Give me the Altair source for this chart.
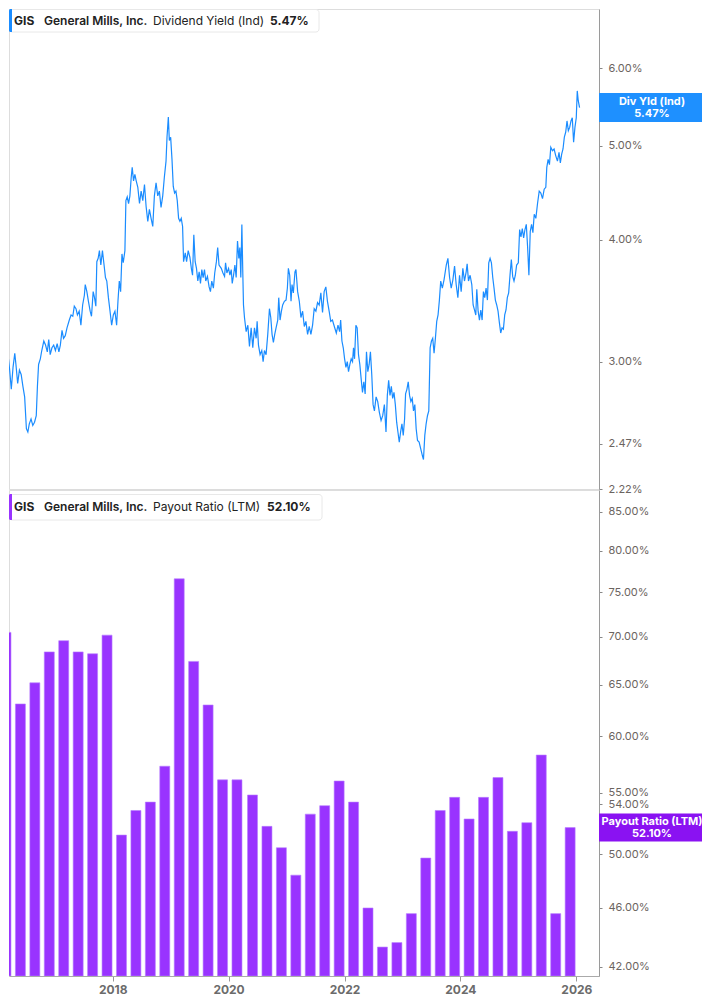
import datetime as dt
import altair as alt
import pandas as pd

# ---------------- data ----------------
# Dividend yield (Ind), % — dates as decimal years
yield_years = [
    2016.080, 2016.110, 2016.130, 2016.160, 2016.190, 2016.220, 2016.250, 2016.280, 2016.310, 2016.330,
    2016.360, 2016.390, 2016.420, 2016.450, 2016.480, 2016.510, 2016.535, 2016.560, 2016.590, 2016.620,
    2016.650, 2016.680, 2016.700, 2016.720, 2016.750, 2016.775, 2016.810, 2016.840, 2016.870, 2016.895,
    2016.920, 2016.950, 2016.980, 2017.010, 2017.040, 2017.070, 2017.095, 2017.124, 2017.150, 2017.180,
    2017.210, 2017.250, 2017.280, 2017.310, 2017.336, 2017.365, 2017.390, 2017.420, 2017.450, 2017.480,
    2017.510, 2017.525, 2017.553, 2017.580, 2017.610, 2017.633, 2017.662, 2017.685, 2017.708, 2017.725,
    2017.748, 2017.770, 2017.794, 2017.822, 2017.850, 2017.874, 2017.897, 2017.925, 2017.948, 2017.981,
    2018.010, 2018.038, 2018.067, 2018.090, 2018.113, 2018.136, 2018.159, 2018.181, 2018.210, 2018.227,
    2018.250, 2018.273, 2018.296, 2018.319, 2018.336, 2018.359, 2018.382, 2018.405, 2018.433, 2018.462,
    2018.490, 2018.519, 2018.548, 2018.576, 2018.605, 2018.633, 2018.662, 2018.691, 2018.719, 2018.748,
    2018.777, 2018.805, 2018.834, 2018.863, 2018.891, 2018.920, 2018.937, 2018.960, 2018.977, 2019.000,
    2019.023, 2019.045, 2019.068, 2019.091, 2019.114, 2019.137, 2019.160, 2019.183, 2019.206, 2019.223,
    2019.252, 2019.275, 2019.303, 2019.332, 2019.360, 2019.378, 2019.400, 2019.423, 2019.446, 2019.469,
    2019.492, 2019.515, 2019.538, 2019.561, 2019.584, 2019.606, 2019.635, 2019.664, 2019.687, 2019.710,
    2019.738, 2019.761, 2019.790, 2019.812, 2019.835, 2019.874, 2019.903, 2019.931, 2019.948, 2019.971,
    2020.000, 2020.023, 2020.046, 2020.063, 2020.086, 2020.109, 2020.131, 2020.154, 2020.177, 2020.194,
    2020.211, 2020.229, 2020.246, 2020.257, 2020.274, 2020.303, 2020.332, 2020.360, 2020.389, 2020.417,
    2020.446, 2020.475, 2020.492, 2020.515, 2020.543, 2020.572, 2020.595, 2020.618, 2020.646, 2020.675,
    2020.704, 2020.727, 2020.749, 2020.772, 2020.795, 2020.818, 2020.847, 2020.864, 2020.887, 2020.910,
    2020.932, 2020.961, 2020.990, 2021.013, 2021.030, 2021.053, 2021.076, 2021.093, 2021.116, 2021.144,
    2021.161, 2021.190, 2021.219, 2021.247, 2021.276, 2021.305, 2021.333, 2021.362, 2021.390, 2021.419,
    2021.448, 2021.476, 2021.505, 2021.534, 2021.562, 2021.591, 2021.620, 2021.648, 2021.677, 2021.705,
    2021.734, 2021.762, 2021.791, 2021.830, 2021.858, 2021.887, 2021.915, 2021.933, 2021.955, 2021.978,
    2022.001, 2022.024, 2022.047, 2022.069, 2022.092, 2022.115, 2022.138, 2022.155, 2022.173, 2022.196,
    2022.218, 2022.241, 2022.264, 2022.287, 2022.310, 2022.333, 2022.356, 2022.379, 2022.402, 2022.425,
    2022.447, 2022.470, 2022.493, 2022.516, 2022.545, 2022.573, 2022.602, 2022.631, 2022.659, 2022.688,
    2022.716, 2022.739, 2022.762, 2022.785, 2022.808, 2022.831, 2022.854, 2022.877, 2022.900, 2022.922,
    2022.945, 2022.968, 2022.991, 2023.014, 2023.037, 2023.054, 2023.077, 2023.100, 2023.123, 2023.146,
    2023.169, 2023.191, 2023.214, 2023.237, 2023.260, 2023.288, 2023.317, 2023.346, 2023.363, 2023.386,
    2023.409, 2023.432, 2023.455, 2023.478, 2023.501, 2023.523, 2023.546, 2023.569, 2023.592, 2023.615,
    2023.638, 2023.661, 2023.689, 2023.718, 2023.757, 2023.785, 2023.814, 2023.842, 2023.871, 2023.900,
    2023.928, 2023.957, 2023.986, 2024.014, 2024.043, 2024.071, 2024.100, 2024.117, 2024.140, 2024.168,
    2024.197, 2024.220, 2024.243, 2024.266, 2024.283, 2024.306, 2024.329, 2024.352, 2024.375, 2024.397,
    2024.420, 2024.443, 2024.466, 2024.489, 2024.512, 2024.535, 2024.558, 2024.580, 2024.603, 2024.626,
    2024.649, 2024.672, 2024.695, 2024.718, 2024.741, 2024.764, 2024.786, 2024.809, 2024.832, 2024.855,
    2024.878, 2024.901, 2024.924, 2024.947, 2024.969, 2024.998, 2025.021, 2025.044, 2025.067, 2025.090,
    2025.113, 2025.136, 2025.159, 2025.181, 2025.204, 2025.227, 2025.250, 2025.273, 2025.301, 2025.330,
    2025.359, 2025.387, 2025.416, 2025.445, 2025.473, 2025.490, 2025.513, 2025.536, 2025.559, 2025.588,
    2025.616, 2025.645, 2025.674, 2025.701, 2025.724, 2025.747, 2025.770, 2025.793, 2025.816, 2025.839,
    2025.862, 2025.885, 2025.908, 2025.930, 2025.953, 2025.976, 2025.999, 2026.016, 2026.033, 2026.056,
]
yield_values = [
    3.20, 3.16, 3.00, 2.93, 3.06, 2.95, 2.81, 2.96, 3.06, 2.98,
    2.85, 2.94, 2.91, 2.83, 2.76, 2.56, 2.54, 2.59, 2.62, 2.58,
    2.60, 2.64, 2.83, 2.98, 3.02, 3.08, 3.15, 3.12, 3.07, 3.16,
    3.05, 3.10, 3.12, 3.08, 3.13, 3.07, 3.12, 3.23, 3.17, 3.19,
    3.25, 3.31, 3.35, 3.34, 3.42, 3.40, 3.35, 3.38, 3.27, 3.43,
    3.51, 3.60, 3.54, 3.46, 3.38, 3.34, 3.54, 3.49, 3.42, 3.80,
    3.83, 3.90, 3.77, 3.90, 3.77, 3.66, 3.63, 3.49, 3.40, 3.27,
    3.35, 3.38, 3.27, 3.46, 3.63, 3.54, 3.87, 3.79, 3.90, 4.39,
    4.43, 4.36, 4.44, 4.64, 4.75, 4.60, 4.67, 4.60, 4.53, 4.36,
    4.49, 4.39, 4.56, 4.33, 4.18, 4.30, 4.21, 4.13, 4.44, 4.58,
    4.44, 4.49, 4.32, 4.44, 4.64, 4.82, 5.10, 5.35, 5.06, 5.10,
    4.84, 4.54, 4.47, 4.49, 4.39, 4.21, 4.18, 4.21, 4.13, 3.80,
    3.88, 3.80, 3.90, 3.84, 3.73, 3.68, 4.05, 3.80, 3.74, 3.63,
    3.71, 3.61, 3.73, 3.66, 3.73, 3.63, 3.67, 3.58, 3.54, 3.63,
    3.57, 3.70, 3.80, 3.93, 3.77, 3.74, 3.70, 3.67, 3.79, 3.70,
    3.74, 3.68, 3.73, 3.61, 3.68, 3.77, 3.66, 3.99, 3.83, 3.93,
    3.66, 4.15, 3.68, 3.43, 3.33, 3.22, 3.27, 3.11, 3.25, 3.10,
    3.25, 3.17, 3.30, 3.12, 3.05, 3.08, 3.00, 3.08, 3.05, 3.20,
    3.40, 3.33, 3.20, 3.14, 3.20, 3.25, 3.31, 3.49, 3.31, 3.38,
    3.43, 3.46, 3.47, 3.57, 3.74, 3.68, 3.46, 3.60, 3.53, 3.71,
    3.73, 3.54, 3.46, 3.33, 3.38, 3.26, 3.30, 3.20, 3.26, 3.20,
    3.27, 3.40, 3.38, 3.45, 3.43, 3.53, 3.37, 3.54, 3.58, 3.46,
    3.38, 3.30, 3.31, 3.25, 3.21, 3.27, 3.22, 3.31, 3.15, 3.10,
    3.02, 2.96, 3.00, 2.93, 2.98, 3.02, 3.00, 3.10, 3.02, 3.27,
    3.25, 3.05, 2.98, 2.88, 2.79, 2.86, 2.78, 3.07, 2.93, 2.98,
    3.07, 2.91, 2.71, 2.67, 2.76, 2.73, 2.66, 2.61, 2.64, 2.71,
    2.54, 2.77, 2.87, 2.77, 2.83, 2.75, 2.79, 2.71, 2.60, 2.54,
    2.48, 2.54, 2.59, 2.52, 2.62, 2.78, 2.81, 2.86, 2.77, 2.73,
    2.75, 2.67, 2.71, 2.56, 2.49, 2.48, 2.44, 2.40, 2.38, 2.52,
    2.59, 2.64, 2.67, 3.10, 3.15, 3.17, 3.06, 3.17, 3.30, 3.35,
    3.47, 3.63, 3.57, 3.64, 3.77, 3.83, 3.66, 3.57, 3.64, 3.76,
    3.60, 3.49, 3.68, 3.54, 3.74, 3.63, 3.71, 3.78, 3.63, 3.68,
    3.60, 3.43, 3.39, 3.35, 3.56, 3.38, 3.31, 3.39, 3.31, 3.54,
    3.49, 3.57, 3.47, 3.79, 3.83, 3.79, 3.66, 3.57, 3.47, 3.43,
    3.38, 3.29, 3.21, 3.25, 3.24, 3.35, 3.39, 3.49, 3.53, 3.68,
    3.82, 3.67, 3.63, 3.68, 3.77, 3.79, 4.10, 4.03, 4.11, 4.02,
    4.10, 4.15, 3.93, 3.68, 4.08, 4.15, 4.07, 4.25, 4.21, 4.36,
    4.49, 4.47, 4.41, 4.51, 4.53, 4.75, 4.84, 4.78, 4.98, 4.94,
    4.96, 4.88, 4.82, 4.92, 4.80, 4.90, 4.96, 5.10, 5.16, 5.30,
    5.18, 5.22, 5.30, 5.34, 5.04, 5.22, 5.34, 5.69, 5.56, 5.47,
]

# Payout ratio (LTM), % — fiscal quarter ends
payout_dates = [
    "2016-02-28", "2016-05-29", "2016-08-28", "2016-11-27",
    "2017-02-26", "2017-05-28", "2017-08-27", "2017-11-26",
    "2018-02-25", "2018-05-27", "2018-08-26", "2018-11-25",
    "2019-02-24", "2019-05-26", "2019-08-25", "2019-11-24",
    "2020-02-23", "2020-05-31", "2020-08-30", "2020-11-29",
    "2021-02-28", "2021-05-30", "2021-08-29", "2021-11-28",
    "2022-02-27", "2022-05-29", "2022-08-28", "2022-11-27",
    "2023-02-26", "2023-05-28", "2023-08-27", "2023-11-26",
    "2024-02-25", "2024-05-26", "2024-08-25", "2024-11-24",
    "2025-02-23", "2025-05-25", "2025-08-24", "2025-11-23",
]
payout_values = [
    70.5, 63.1, 65.2, 68.4, 69.6, 68.4, 68.2, 70.2,
    51.5, 53.5, 54.2, 57.3, 76.6, 67.4, 63.0, 56.1,
    56.1, 54.8, 52.2, 50.5, 48.4, 53.2, 53.9, 56.0,
    54.2, 46.0, 43.3, 43.6, 45.6, 49.7, 53.5, 54.6,
    52.8, 54.6, 56.3, 51.8, 52.5, 58.3, 45.6, 52.1,
]

yield_ticks = [2.22, 2.47, 3.0, 4.0, 5.0, 6.0]
payout_ticks = [42, 46, 50, 54, 55, 60, 65, 70, 75, 80, 85]
year_ticks = [2018, 2020, 2022, 2024, 2026]

yield_domain = [2.22, 6.906]
payout_domain = [41.40, 87.90]
x_domain_years = [2016.2105, 2026.3915]

latest_yield = 5.47
latest_payout = 52.10

# ---------------- helpers ----------------
def dec_to_parts(t):
    y = int(t)
    start = dt.datetime(y, 1, 1)
    end = dt.datetime(y + 1, 1, 1)
    return start + (end - start) * (t - y)


def dec_to_iso(t):
    return dec_to_parts(t).strftime("%Y-%m-%dT%H:%M:%S")


def dec_to_altdt(t):
    d = dec_to_parts(t)
    return alt.DateTime(year=d.year, month=d.month, date=d.day, hours=d.hour, minutes=d.minute)


line_df = pd.DataFrame({"date": [dec_to_iso(t) for t in yield_years], "yield": yield_values})
bar_df = pd.DataFrame({"date": [d + "T00:00:00" for d in payout_dates], "payout": payout_values})

BLUE = "#1a8cff"
BLUE_TAG = "#1e90ff"
PURPLE = "#9933ff"
PURPLE_TAG = "#8a12f2"
AXIS_LABEL = "#6b6460"
FONT = "Inter"

W = 590
H_TOP = 480
H_BOT = 486
TAG_X0, TAG_X2, TAG_XC = W, 693, 643

x_scale = alt.Scale(domain=[dec_to_altdt(x_domain_years[0]), dec_to_altdt(x_domain_years[1])], padding=0)
pct_expr = "format(datum.value, '.2f') + '%'"

# ---------------- top panel ----------------
top_line = alt.Chart(line_df).mark_line(color=BLUE, strokeWidth=1.2, clip=True).encode(
    x=alt.X("date:T", scale=x_scale,
            axis=alt.Axis(title=None, labels=False, ticks=False, grid=False,
                          domainColor="#dcdcdc", domainWidth=1)),
    y=alt.Y("yield:Q",
            scale=alt.Scale(type="log", domain=yield_domain, nice=False, padding=0),
            axis=alt.Axis(orient="right", title=None, grid=False, values=yield_ticks,
                          labelExpr=pct_expr, tickSize=3, tickColor="#888",
                          domainColor="#9a9a9a", labelColor=AXIS_LABEL, labelFontSize=11,
                          labelPadding=6, labelFont=FONT)),
)

ytag_df = pd.DataFrame({"yield": [latest_yield], "name": ["Div Yld (Ind)"], "val": ["5.47%"]})
top_tag = alt.Chart(ytag_df).mark_rect(color=BLUE_TAG, yOffset=-14.5, y2Offset=14.5).encode(
    x=alt.value(TAG_X0), x2=alt.value(TAG_X2), y="yield:Q", y2="yield:Q")
top_tag_t1 = alt.Chart(ytag_df).mark_text(
    color="white", fontWeight="bold", fontSize=11, font=FONT, dy=-6,
    align="center", baseline="middle").encode(x=alt.value(TAG_XC), y="yield:Q", text="name:N")
top_tag_t2 = alt.Chart(ytag_df).mark_text(
    color="white", fontWeight="bold", fontSize=11, font=FONT, dy=6,
    align="center", baseline="middle").encode(x=alt.value(TAG_XC), y="yield:Q", text="val:N")

leg_df = pd.DataFrame({"k": [0]})


def legend_layers(y0, y1, accent, x_end, pieces):
    ym = (y0 + y1) / 2
    layers = [
        alt.Chart(leg_df).mark_rect(fill="white", stroke="#e8e8e8", strokeWidth=1, cornerRadius=3).encode(
            x=alt.value(0.5), x2=alt.value(x_end), y=alt.value(y0 + 0.5), y2=alt.value(y1)),
        alt.Chart(leg_df).mark_rect(color=accent, cornerRadiusTopLeft=3, cornerRadiusBottomLeft=3).encode(
            x=alt.value(0), x2=alt.value(3), y=alt.value(y0), y2=alt.value(y1)),
    ]
    for text, xpos, weight in pieces:
        layers.append(
            alt.Chart(leg_df).mark_text(align="left", baseline="middle", font=FONT, fontSize=12,
                                        fontWeight=weight, color="#222222").encode(
                x=alt.value(xpos), y=alt.value(ym), text=alt.value(text)))
    return layers


top_legend = legend_layers(0, 23, BLUE, 310, [
    ("GIS", 5, 700), ("General Mills, Inc.", 35, 600),
    ("Dividend Yield (Ind)", 144, 400), ("5.47%", 261, 700)])

top = alt.layer(top_line, top_tag, top_tag_t1, top_tag_t2, *top_legend).properties(width=W, height=H_TOP)

# ---------------- bottom panel ----------------
bars = alt.Chart(bar_df).mark_bar(width=10, color=PURPLE, clip=True, stroke="#b77dff", strokeWidth=0.6).encode(
    x=alt.X("date:T", scale=x_scale,
            axis=alt.Axis(title=None, grid=False, format="%Y",
                          values=[alt.DateTime(year=y, month=1, date=1) for y in year_ticks],
                          labelFontWeight="bold", labelColor="#6b6b6b", labelFontSize=12,
                          labelFont=FONT, tickSize=5, tickColor="#999", domainColor="#aaaaaa",
                          labelPadding=3)),
    y=alt.Y("payout:Q",
            scale=alt.Scale(type="log", domain=payout_domain, nice=False, padding=0),
            axis=alt.Axis(orient="right", title=None, grid=False, values=payout_ticks,
                          labelExpr=pct_expr, tickSize=3, tickColor="#888",
                          domainColor="#9a9a9a", labelColor=AXIS_LABEL, labelFontSize=11,
                          labelPadding=6, labelFont=FONT)),
    y2=alt.datum(payout_domain[0]),
)

ptag_df = pd.DataFrame({"payout": [latest_payout], "name": ["Payout Ratio (LTM)"], "val": ["52.10%"]})
bot_tag = alt.Chart(ptag_df).mark_rect(color=PURPLE_TAG, yOffset=-14, y2Offset=14).encode(
    x=alt.value(TAG_X0), x2=alt.value(TAG_X2), y="payout:Q", y2="payout:Q")
bot_tag_t1 = alt.Chart(ptag_df).mark_text(
    color="white", fontWeight="bold", fontSize=11, font=FONT, dy=-6,
    align="center", baseline="middle").encode(x=alt.value(TAG_XC), y="payout:Q", text="name:N")
bot_tag_t2 = alt.Chart(ptag_df).mark_text(
    color="white", fontWeight="bold", fontSize=11, font=FONT, dy=6,
    align="center", baseline="middle").encode(x=alt.value(TAG_XC), y="payout:Q", text="val:N")

bot_legend = legend_layers(4, 30, PURPLE, 313, [
    ("GIS", 5, 700), ("General Mills, Inc.", 35, 600),
    ("Payout Ratio (LTM)", 144, 400), ("52.10%", 258, 700)])

bottom = alt.layer(bars, bot_tag, bot_tag_t1, bot_tag_t2, *bot_legend).properties(width=W, height=H_BOT)

chart = alt.vconcat(top, bottom, spacing=1, bounds="flush").properties(padding=0).configure_view(
    stroke=None).configure(font=FONT)

chart.save("out.html", embed_options={"renderer": "svg", "actions": False})
